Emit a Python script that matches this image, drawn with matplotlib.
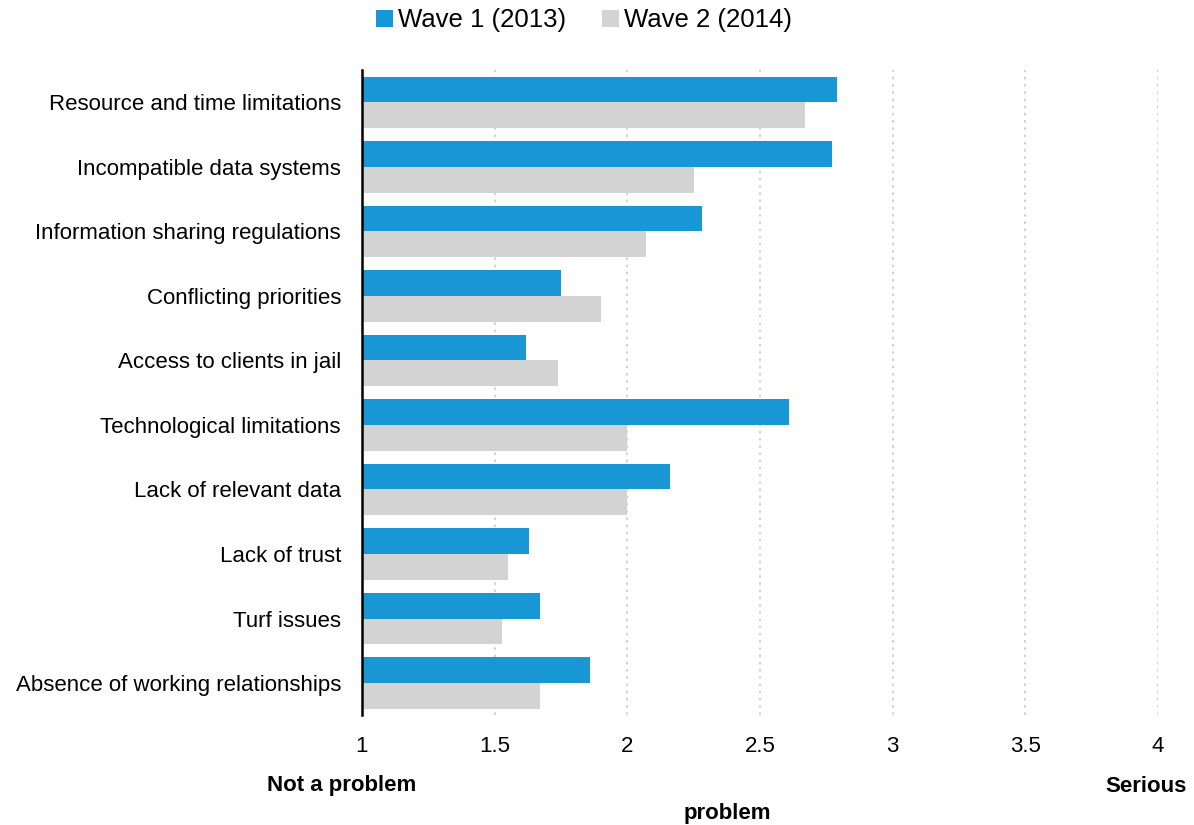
import matplotlib.pyplot as plt
import numpy as np

plt.rcParams['font.family'] = ['Liberation Sans', 'DejaVu Sans']

categories = [
    'Resource and time limitations',
    'Incompatible data systems',
    'Information sharing regulations',
    'Conflicting priorities',
    'Access to clients in jail',
    'Technological limitations',
    'Lack of relevant data',
    'Lack of trust',
    'Turf issues',
    'Absence of working relationships',
]
wave1 = [2.79, 2.77, 2.28, 1.75, 1.62, 2.61, 2.16, 1.63, 1.67, 1.86]
wave2 = [2.67, 2.25, 2.07, 1.90, 1.74, 2.00, 2.00, 1.55, 1.53, 1.67]
xticks = [1, 1.5, 2, 2.5, 3, 3.5, 4]

blue = '#1897d4'
grey = '#d3d3d3'

fig = plt.figure(figsize=(11.94, 8.25), dpi=100)
ax = fig.add_axes([0.303, 0.133, 0.667, 0.782])

y = np.arange(len(categories))
h = 0.40
base = 1
ax.barh(y - h / 2, np.array(wave1) - base, h, left=base, color=blue,
        label='Wave 1 (2013)', zorder=3)
ax.barh(y + h / 2, np.array(wave2) - base, h, left=base, color=grey,
        label='Wave 2 (2014)', zorder=3)

ax.set_xlim(1, 4)
ax.set_ylim(len(categories) - 0.5, -0.5)
ax.set_xticks(xticks)
ax.set_xticklabels([f'{t:g}' for t in xticks], fontsize=16)
ax.set_yticks(y)
ax.set_yticklabels(categories, fontsize=16)
ax.tick_params(axis='x', length=0, pad=15)
ax.tick_params(axis='y', length=0, pad=15)

for t in xticks[1:]:
    ax.axvline(t, color='#d0d0d0', linestyle=(0, (1.5, 2.5)), linewidth=1.3, zorder=1)

for s in ['top', 'right', 'bottom']:
    ax.spines[s].set_visible(False)
ax.spines['left'].set_linewidth(1.8)
ax.spines['left'].set_zorder(4)

fig.legend(loc='upper center', bbox_to_anchor=(0.489, 1.018), ncol=2,
           frameon=False, fontsize=18.5, handlelength=0.65, handleheight=0.65,
           handletextpad=0.2, columnspacing=1.4)

fig.text(342 / 1194, 1 - 786 / 825, 'Not a problem', ha='center', va='center',
         fontsize=16, fontweight='bold')
fig.text(1146 / 1194, 1 - 786 / 825, 'Serious', ha='center', va='center',
         fontsize=16, fontweight='bold')
fig.text(727 / 1194, 1 - 813 / 825, 'problem', ha='center', va='center',
         fontsize=16, fontweight='bold')

fig.savefig('out.png', dpi=100)
